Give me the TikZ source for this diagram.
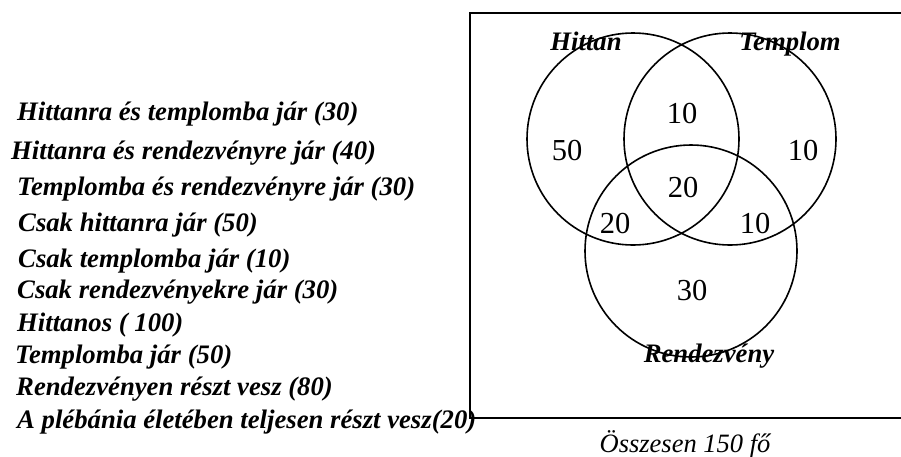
\documentclass[tikz,border=0pt]{standalone}
\usepackage{fontspec}
\setmainfont{Liberation Serif}
\usetikzlibrary{positioning}

\begin{document}
\begin{tikzpicture}[x=1pt, y=-1pt,
  item/.style={anchor=base west, inner sep=0pt, font=\fontsize{26.7}{32}\selectfont\bfseries\itshape},
  setname/.style={anchor=base, inner sep=0pt, font=\fontsize{26.7}{32}\selectfont\bfseries\itshape},
  count/.style={anchor=base, inner sep=0pt, font=\fontsize{30.5}{36}\selectfont},
  set/.style={draw, circle, line width=1.6pt, minimum size=212pt, inner sep=0pt}]
\useasboundingbox (0,0) rectangle (901,456);
% frame, open at the right
\coordinate (tr) at (903,13);
\coordinate (br) at (903,417.5);
\draw[line width=2pt] (tr) -- (470,13) coordinate (tl) -- (470,417.5) coordinate (bl) -- (br);
% the three sets
\node[set] (hittan) at (633,139) {};
\node[set] (templom) at (730,139) {};
\node[set] (rendezveny) at (691,251) {};
\node[setname] (lh) at (586,50) {Hittan};
\node[setname] (lt) at (790,50) {Templom};
\node[setname] (lr) at (709,362) {Rendezvény};
% counts
\node[count] (n50) at (567,160) {50};
\node[count] (n10a) at (682,123) {10};
\node[count] (n10b) at (803,160) {10};
\node[count] (n20a) at (683,197) {20};
\node[count] (n20b) at (615,233) {20};
\node[count] (n10c) at (755,233) {10};
\node[count] (n30) at (692,300) {30};
\node[anchor=base, inner sep=0pt, font=\fontsize{26.5}{32}\selectfont\itshape] (total) at (685,452) {Összesen 150 fő};
% legend
\node[item] (i1) at (17,120) {Hittanra és templomba jár (30)};
\node[item] (i2) at (11,159) {Hittanra és rendezvényre jár (40)};
\node[item] (i3) at (17,195) {Templomba és rendezvényre jár (30)};
\node[item] (i4) at (18,231) {Csak hittanra jár (50)};
\node[item] (i5) at (18,267) {Csak templomba jár (10)};
\node[item] (i6) at (17,298) {Csak rendezvényekre jár (30)};
\node[item] (i7) at (17,331) {Hittanos ( 100)};
\node[item] (i8) at (15,363) {Templomba jár (50)};
\node[item] (i9) at (16,395) {Rendezvényen részt vesz (80)};
\node[item] (i10) at (17,428) {A plébánia életében teljesen részt vesz(20)};
\end{tikzpicture}
\end{document}
